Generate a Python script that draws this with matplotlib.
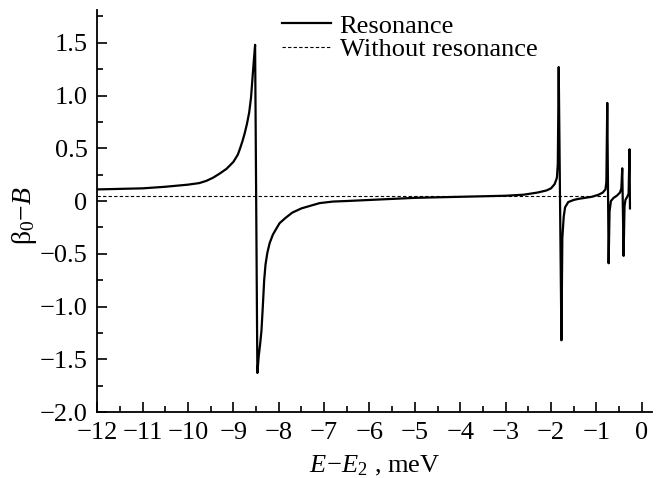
import matplotlib
matplotlib.use("Agg")
import matplotlib.pyplot as plt
from matplotlib.ticker import MultipleLocator, FuncFormatter

plt.rcParams["font.family"] = ["Liberation Serif", "DejaVu Serif"]
plt.rcParams["mathtext.fontset"] = "custom"
plt.rcParams["mathtext.rm"] = "Liberation Serif"
plt.rcParams["mathtext.it"] = "Liberation Serif:italic"

# resonance curve (E - E2 in meV, beta0 - B)
res_x = [-12.0, -11.5, -11.0, -10.5, -10.0, -9.75, -9.6, -9.45, -9.3, -9.15,
         -9.0, -8.9, -8.85, -8.8, -8.75, -8.7, -8.65, -8.61, -8.58, -8.55,
         -8.52, -8.47, -8.44, -8.41, -8.38, -8.35, -8.32, -8.29, -8.25, -8.2,
         -8.13, -8.05, -7.98, -7.85, -7.7, -7.5, -7.3, -7.1, -6.8, -6.5,
         -6.0, -5.5, -5.0, -4.5, -4.0, -3.5, -3.0, -2.6, -2.3, -2.1,
         -2.0, -1.92, -1.87, -1.85, -1.83, -1.77, -1.75, -1.72, -1.69, -1.62,
         -1.5, -1.4, -1.25, -1.1, -0.95, -0.86, -0.8, -0.78, -0.76, -0.73,
         -0.71, -0.68, -0.62, -0.55, -0.48, -0.45, -0.43, -0.40, -0.38, -0.36,
         -0.32, -0.29, -0.27, -0.26]
res_y = [0.11, 0.115, 0.12, 0.135, 0.155, 0.17, 0.19, 0.22, 0.26, 0.305,
         0.37, 0.44, 0.50, 0.565, 0.64, 0.73, 0.84, 0.98, 1.15, 1.32,
         1.48, -1.63, -1.47, -1.36, -1.23, -1.0, -0.75, -0.60, -0.49, -0.40,
         -0.32, -0.26, -0.21, -0.16, -0.11, -0.07, -0.045, -0.02, -0.005, 0.0,
         0.01, 0.02, 0.03, 0.035, 0.04, 0.045, 0.05, 0.06, 0.08, 0.10,
         0.12, 0.16, 0.22, 0.35, 1.27, -1.32, -0.35, -0.15, -0.06, -0.01,
         0.01, 0.02, 0.03, 0.04, 0.06, 0.08, 0.11, 0.18, 0.93, -0.59,
         -0.10, 0.0, 0.03, 0.05, 0.08, 0.12, 0.31, -0.52, -0.05, 0.01,
         0.04, 0.07, 0.49, -0.07]

# non-resonant background
bg_x = [-12.0, -0.75]
bg_y = [0.05, 0.05]

fig = plt.figure(figsize=(6.61, 4.78), dpi=100)
ax = fig.add_axes([0.147, 0.138, 0.839, 0.841])

ax.plot(res_x, res_y, color="black", lw=1.6, label="Resonance")
ax.plot(bg_x, bg_y, color="black", lw=0.8, ls=(0, (3, 2)), label="Without resonance")

ax.set_xlim(-12, 0.22)
ax.set_ylim(-2.0, 1.81)

ax.spines["top"].set_visible(False)
ax.spines["right"].set_visible(False)
for s in ("left", "bottom"):
    ax.spines[s].set_linewidth(1.3)

ax.xaxis.set_major_locator(MultipleLocator(1))
ax.xaxis.set_minor_locator(MultipleLocator(0.5))
ax.yaxis.set_major_locator(MultipleLocator(0.5))
ax.yaxis.set_minor_locator(MultipleLocator(0.25))
ax.tick_params(which="major", direction="in", length=7.5, width=1.2, labelsize=19)
ax.tick_params(which="minor", direction="in", length=4.5, width=1.2)
ax.tick_params(axis="y", which="major", pad=7)
ax.tick_params(axis="x", which="major", pad=7)


def fmt_x(v, pos):
    return "0" if abs(v) < 1e-9 else f"{v:.0f}".replace("-", "\u2212")


def fmt_y(v, pos):
    return "0" if abs(v) < 1e-9 else f"{v:.1f}".replace("-", "\u2212")


ax.xaxis.set_major_formatter(FuncFormatter(fmt_x))
ax.yaxis.set_major_formatter(FuncFormatter(fmt_y))

ax.set_xlabel(r"$E\!-\!E_2$ , meV", fontsize=19, labelpad=7)
ax.set_ylabel("\u03b2$_0$\u2212$B$", fontsize=20)
ax.yaxis.set_label_coords(-0.104, 0.488)

ax.legend(loc="upper left", bbox_to_anchor=(0.333, 0.99), frameon=False,
          fontsize=19, handlelength=1.85, handletextpad=0.34,
          borderpad=0, borderaxespad=0, labelspacing=0.0)

fig.savefig("out.png", dpi=100)
